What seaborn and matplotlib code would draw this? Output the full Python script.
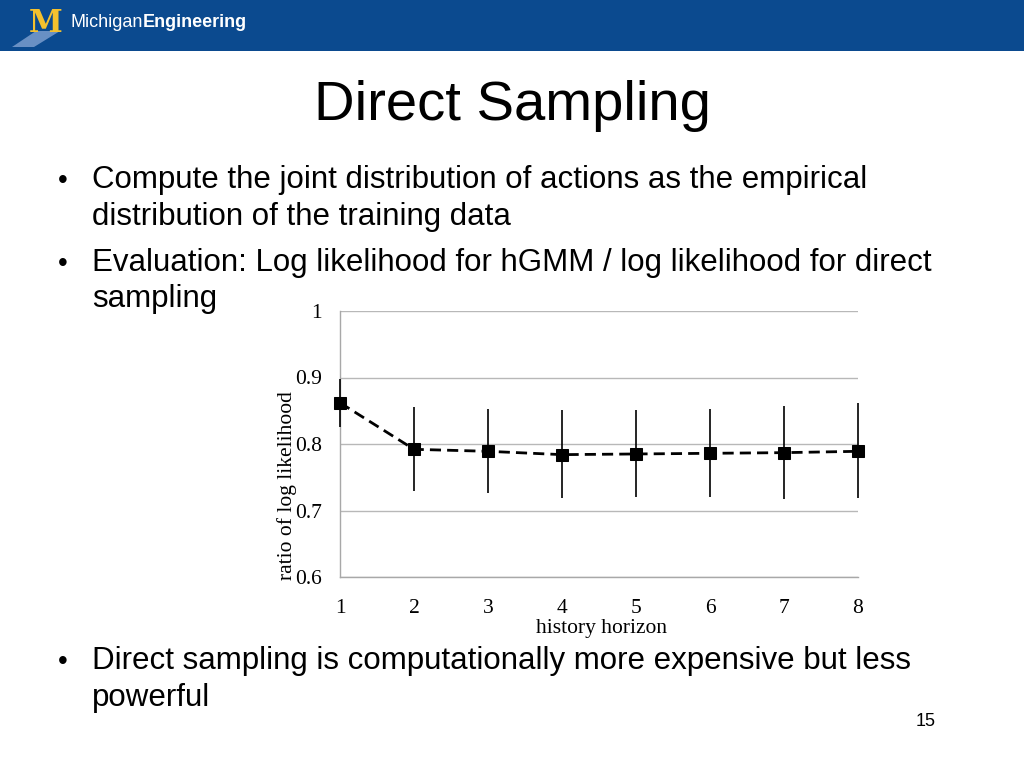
import matplotlib.pyplot as plt
import seaborn as sns
import pandas as pd
from matplotlib.patches import Rectangle, Polygon

# values
horizon = [1, 2, 3, 4, 5, 6, 7, 8]
ratio = [0.862, 0.792, 0.789, 0.784, 0.785, 0.786, 0.787, 0.789]
err_low = [0.826, 0.729, 0.726, 0.719, 0.720, 0.720, 0.718, 0.719]
err_high = [0.897, 0.856, 0.853, 0.851, 0.851, 0.853, 0.857, 0.861]
y_ticks = [0.6, 0.7, 0.8, 0.9, 1.0]
y_tick_labels = ["0.6", "0.7", "0.8", "0.9", "1"]

title = "Direct Sampling"
bullets = [
    ["Compute the joint distribution of actions as the empirical",
     "distribution of the training data"],
    ["Evaluation: Log likelihood for hGMM / log likelihood for direct",
     "sampling"],
    ["Direct sampling is computationally more expensive but less",
     "powerful"],
]
bullet_baselines = [[188, 225], [271, 307], [669, 706]]
page_no = "15"

W, H = 1024, 768
sans = "Liberation Sans"
serif = "Liberation Serif"

sns.set_theme(style="whitegrid")
plt.rcParams["text.color"] = "black"
fig = plt.figure(figsize=(W / 100, H / 100), dpi=100)
fig.patch.set_facecolor("white")


def fx(px):
    return px / W


def fy(py):
    return 1 - py / H


# header bar with logo
fig.patches.append(Rectangle((0, fy(51)), 1, 51 / H, transform=fig.transFigure,
                             facecolor="#0b4a8f", edgecolor="none"))
fig.patches.append(Polygon([(fx(12), fy(47)), (fx(34), fy(47)), (fx(60), fy(31)),
                            (fx(36), fy(31))], closed=True, transform=fig.transFigure,
                           facecolor="#8aa8d6", edgecolor="none", alpha=0.75))
fig.text(fx(46), fy(32), "M", color="#f4c12e", fontsize=22, fontweight="bold",
         family="DejaVu Serif", ha="center", va="baseline")
t1 = fig.text(fx(70), fy(27), "Michigan", color="white", fontsize=13, family=sans,
              va="baseline")
fig.canvas.draw()
bb = t1.get_window_extent()
fig.text(bb.x1 / W, fy(27), "Engineering", color="white", fontsize=13,
         family=sans, fontweight="bold", va="baseline")

# title and bullets
fig.text(0.5, fy(120), title, fontsize=40.5, family=sans, ha="center", va="baseline")
for lines, bases in zip(bullets, bullet_baselines):
    fig.text(fx(58), fy(bases[0]), "\u2022", fontsize=20, family=sans, va="baseline")
    for line, b in zip(lines, bases):
        fig.text(fx(92), fy(b), line, fontsize=22.5, family=sans, va="baseline")
fig.text(fx(926), fy(726), page_no, fontsize=13, family=sans, ha="center",
         va="baseline")

# chart
ax = fig.add_axes([fx(340), fy(577), 518 / W, 266 / H])
df = pd.DataFrame({"horizon": horizon, "ratio": ratio})
ax.vlines(horizon, err_low, err_high, color="black", lw=1.2, clip_on=False, zorder=3)
sns.lineplot(data=df, x="horizon", y="ratio", ax=ax, color="black", lw=2,
             marker="s", markersize=8, markeredgecolor="black", clip_on=False,
             zorder=4)
ax.lines[-1].set_linestyle((0, (4, 2.2)))

ax.set_xlim(1, 8)
ax.set_ylim(0.6, 1.0)
ax.set_xticks(horizon)
ax.set_xticklabels([str(h) for h in horizon], family=serif, fontsize=15.5)
ax.set_yticks(y_ticks)
ax.set_yticklabels(y_tick_labels, family=serif, fontsize=15.5)
ax.grid(axis="x", visible=False)
ax.grid(axis="y", color="#b8b8b8", lw=1)
for s in ["top", "right"]:
    ax.spines[s].set_visible(False)
for s in ["left", "bottom"]:
    ax.spines[s].set_color("#a8a8a8")
    ax.spines[s].set_linewidth(1)
ax.tick_params(axis="x", length=5, color="#a8a8a8", width=1, pad=11, labelcolor="black")
ax.tick_params(axis="y", length=5, color="#a8a8a8", width=1, pad=8, labelcolor="black")
ax.set_xlabel("")
ax.set_ylabel("")
ax.set_facecolor("white")

fig.text(fx(287), fy(486), "ratio of log likelihood", rotation=90, family=serif,
         fontsize=15.5, ha="center", va="center")
fig.text(fx(602), fy(628), "history horizon", family=serif, fontsize=15.5,
         ha="center", va="center")

fig.savefig("out.png", dpi=100)
